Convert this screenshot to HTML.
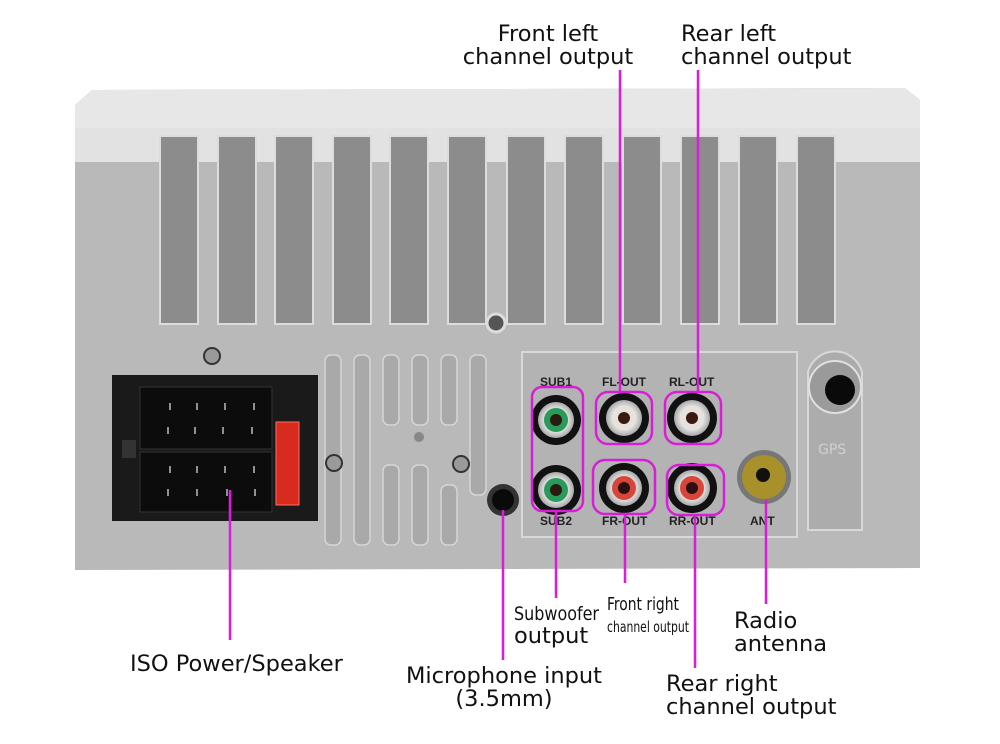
<!DOCTYPE html>
<html><head><meta charset="utf-8"><style>
html,body{margin:0;padding:0;background:#fff;width:1000px;height:744px;overflow:hidden}
svg{display:block}
text{font-family:"DejaVu Sans","Liberation Sans",sans-serif;fill:#111}
.c{font-family:"Liberation Sans Narrow","DejaVu Sans Condensed","Liberation Sans",sans-serif}
.m{stroke:#d81ed8;stroke-width:2.5;fill:none}
.lab{font-family:"Liberation Sans",sans-serif;font-weight:bold;font-size:12px;fill:#222}
</style></head><body>
<svg width="1000" height="744" viewBox="0 0 1000 744">
<defs>
<radialGradient id="gw" cx="50%" cy="50%" r="50%"><stop offset="0.55" stop-color="#f2f2f2"/><stop offset="1" stop-color="#a8a8a8"/></radialGradient>
</defs>
<path d="M92 90 L905 88 L920 100 L920 568 L75 570 L75 105 Z" fill="#b9b9b9"/>
<path d="M92 90 L905 88 L920 100 L920 128 L75 162 L75 105 Z" fill="#e7e7e7"/>
<rect x="75" y="128" width="845" height="34" fill="#e2e2e2"/>
<g fill="#8c8c8c" stroke="#dcdcdc" stroke-width="2">
<rect x="160" y="136" width="38" height="188"/>
<rect x="218" y="136" width="38" height="188"/>
<rect x="275" y="136" width="38" height="188"/>
<rect x="333" y="136" width="38" height="188"/>
<rect x="390" y="136" width="38" height="188"/>
<rect x="448" y="136" width="38" height="188"/>
<rect x="507" y="136" width="38" height="188"/>
<rect x="565" y="136" width="38" height="188"/>
<rect x="623" y="136" width="38" height="188"/>
<rect x="681" y="136" width="38" height="188"/>
<rect x="739" y="136" width="38" height="188"/>
<rect x="797" y="136" width="38" height="188"/>
</g>
<circle cx="496" cy="323" r="9" fill="#555" stroke="#ddd" stroke-width="3"/>
<g fill="#a9a9a9" stroke="#d6d6d6" stroke-width="1.5">
<rect x="325" y="355" width="16" height="190" rx="6"/>
<rect x="354" y="355" width="16" height="190" rx="6"/>
<rect x="383" y="355" width="16" height="70" rx="6"/>
<rect x="412" y="355" width="16" height="70" rx="6"/>
<rect x="441" y="355" width="16" height="70" rx="6"/>
<rect x="470" y="355" width="16" height="140" rx="6"/>
<rect x="383" y="465" width="16" height="80" rx="6"/>
<rect x="412" y="465" width="16" height="80" rx="6"/>
<rect x="441" y="485" width="16" height="60" rx="6"/>
</g>
<circle cx="419" cy="437" r="5" fill="#888"/>
<circle cx="212" cy="356" r="8" fill="#9a9a9a" stroke="#333" stroke-width="2"/>
<circle cx="334" cy="463" r="8" fill="#9a9a9a" stroke="#333" stroke-width="2"/>
<circle cx="461" cy="464" r="8" fill="#9a9a9a" stroke="#333" stroke-width="2"/>
<rect x="112" y="375" width="206" height="146" fill="#1a1a1a"/>
<rect x="140" y="387" width="132" height="62" fill="#0c0c0c" stroke="#333"/>
<rect x="140" y="452" width="132" height="60" fill="#0c0c0c" stroke="#333"/>
<g stroke="#bbb" stroke-width="1.5">
<path d="M170 403v7M197 403v7M225 403v7M254 403v7M168 427v7M195 427v7M223 427v7M252 427v7M170 466v7M197 466v7M225 466v7M254 466v7M168 489v7M197 489v7M227 489v7M255 489v7"/>
</g>
<rect x="276" y="422" width="23" height="83" fill="#d82a1e" stroke="#ff7060"/>
<rect x="122" y="440" width="14" height="18" fill="#333"/>
<rect x="522" y="352" width="275" height="185" fill="#b3b3b3" stroke="#d8d8d8" stroke-width="2"/>
<path d="M808 372 A28 28 0 0 1 862 372 L862 530 L808 530 Z" fill="#acacac" stroke="#d8d8d8" stroke-width="2"/>
<circle cx="835" cy="387" r="26" fill="#9a9a9a" stroke="#e0e0e0" stroke-width="2"/>
<circle cx="840" cy="390" r="15" fill="#0a0a0a"/>
<text x="818" y="454" font-size="14" style="fill:#d0d0d0">GPS</text>
<g>
<circle cx="556" cy="420" r="25" fill="#111"/><circle cx="556" cy="420" r="18" fill="url(#gw)"/><circle cx="556" cy="420" r="12" fill="#2a9a5a"/><circle cx="556" cy="420" r="6" fill="#2a1a10"/>
<circle cx="556" cy="490" r="25" fill="#111"/><circle cx="556" cy="490" r="18" fill="url(#gw)"/><circle cx="556" cy="490" r="12" fill="#2a9a5a"/><circle cx="556" cy="490" r="6" fill="#2a1a10"/>
<circle cx="624" cy="418" r="25" fill="#111"/><circle cx="624" cy="418" r="18" fill="url(#gw)"/><circle cx="624" cy="418" r="12" fill="#e8e2dc"/><circle cx="624" cy="418" r="6" fill="#3a1a10"/>
<circle cx="692" cy="418" r="25" fill="#111"/><circle cx="692" cy="418" r="18" fill="url(#gw)"/><circle cx="692" cy="418" r="12" fill="#e8e2dc"/><circle cx="692" cy="418" r="6" fill="#3a1a10"/>
<circle cx="624" cy="488" r="25" fill="#111"/><circle cx="624" cy="488" r="18" fill="url(#gw)"/><circle cx="624" cy="488" r="12" fill="#d8463a"/><circle cx="624" cy="488" r="6" fill="#2a1010"/>
<circle cx="692" cy="488" r="25" fill="#111"/><circle cx="692" cy="488" r="18" fill="url(#gw)"/><circle cx="692" cy="488" r="12" fill="#d8463a"/><circle cx="692" cy="488" r="6" fill="#2a1010"/>
<circle cx="764" cy="477" r="27" fill="#777"/><circle cx="764" cy="477" r="22" fill="#a8902a"/><circle cx="763" cy="475" r="7" fill="#111"/>
<circle cx="503" cy="500" r="16" fill="#333"/><circle cx="503" cy="500" r="11" fill="#0a0a0a"/>
</g>
<text class="lab" x="540" y="386">SUB1</text>
<text class="lab" x="602" y="386">FL-OUT</text>
<text class="lab" x="669" y="386">RL-OUT</text>
<text class="lab" x="540" y="525">SUB2</text>
<text class="lab" x="602" y="525">FR-OUT</text>
<text class="lab" x="669" y="525">RR-OUT</text>
<text class="lab" x="750" y="525">ANT</text>
<rect x="532" y="387" width="51" height="124" rx="10" class="m"/>
<rect x="596" y="392" width="56" height="52" rx="12" class="m"/>
<rect x="665" y="392" width="56" height="52" rx="12" class="m"/>
<rect x="593" y="460" width="62" height="54" rx="12" class="m"/>
<rect x="667" y="465" width="57" height="50" rx="12" class="m"/>
<path class="m" d="M620 70V393M698 70V393M556 511V598M625 515V583M695 515V668M766 500V604M503 510V660M230 490V640"/>
<g font-size="22.5">
<text x="548" y="41" text-anchor="middle">Front left</text>
<text x="548" y="64" text-anchor="middle">channel output</text>
<text x="681" y="41">Rear left</text>
<text x="681" y="64">channel output</text>
<text x="130" y="671">ISO Power/Speaker</text>
<text x="504" y="683" text-anchor="middle">Microphone input</text>
<text x="504" y="706" text-anchor="middle">(3.5mm)</text>
<text x="514" y="643">output</text>
<text x="734" y="628">Radio</text>
<text x="734" y="651">antenna</text>
<text x="666" y="691">Rear right</text>
<text x="666" y="714">channel output</text>
</g>
<text class="c" x="514" y="620" font-size="19" textLength="85" lengthAdjust="spacingAndGlyphs">Subwoofer</text>
<text class="c" x="607" y="610" font-size="18" textLength="72" lengthAdjust="spacingAndGlyphs">Front right</text>
<text class="c" x="607" y="632" font-size="15" textLength="82" lengthAdjust="spacingAndGlyphs">channel output</text>
</svg>
</body></html>
